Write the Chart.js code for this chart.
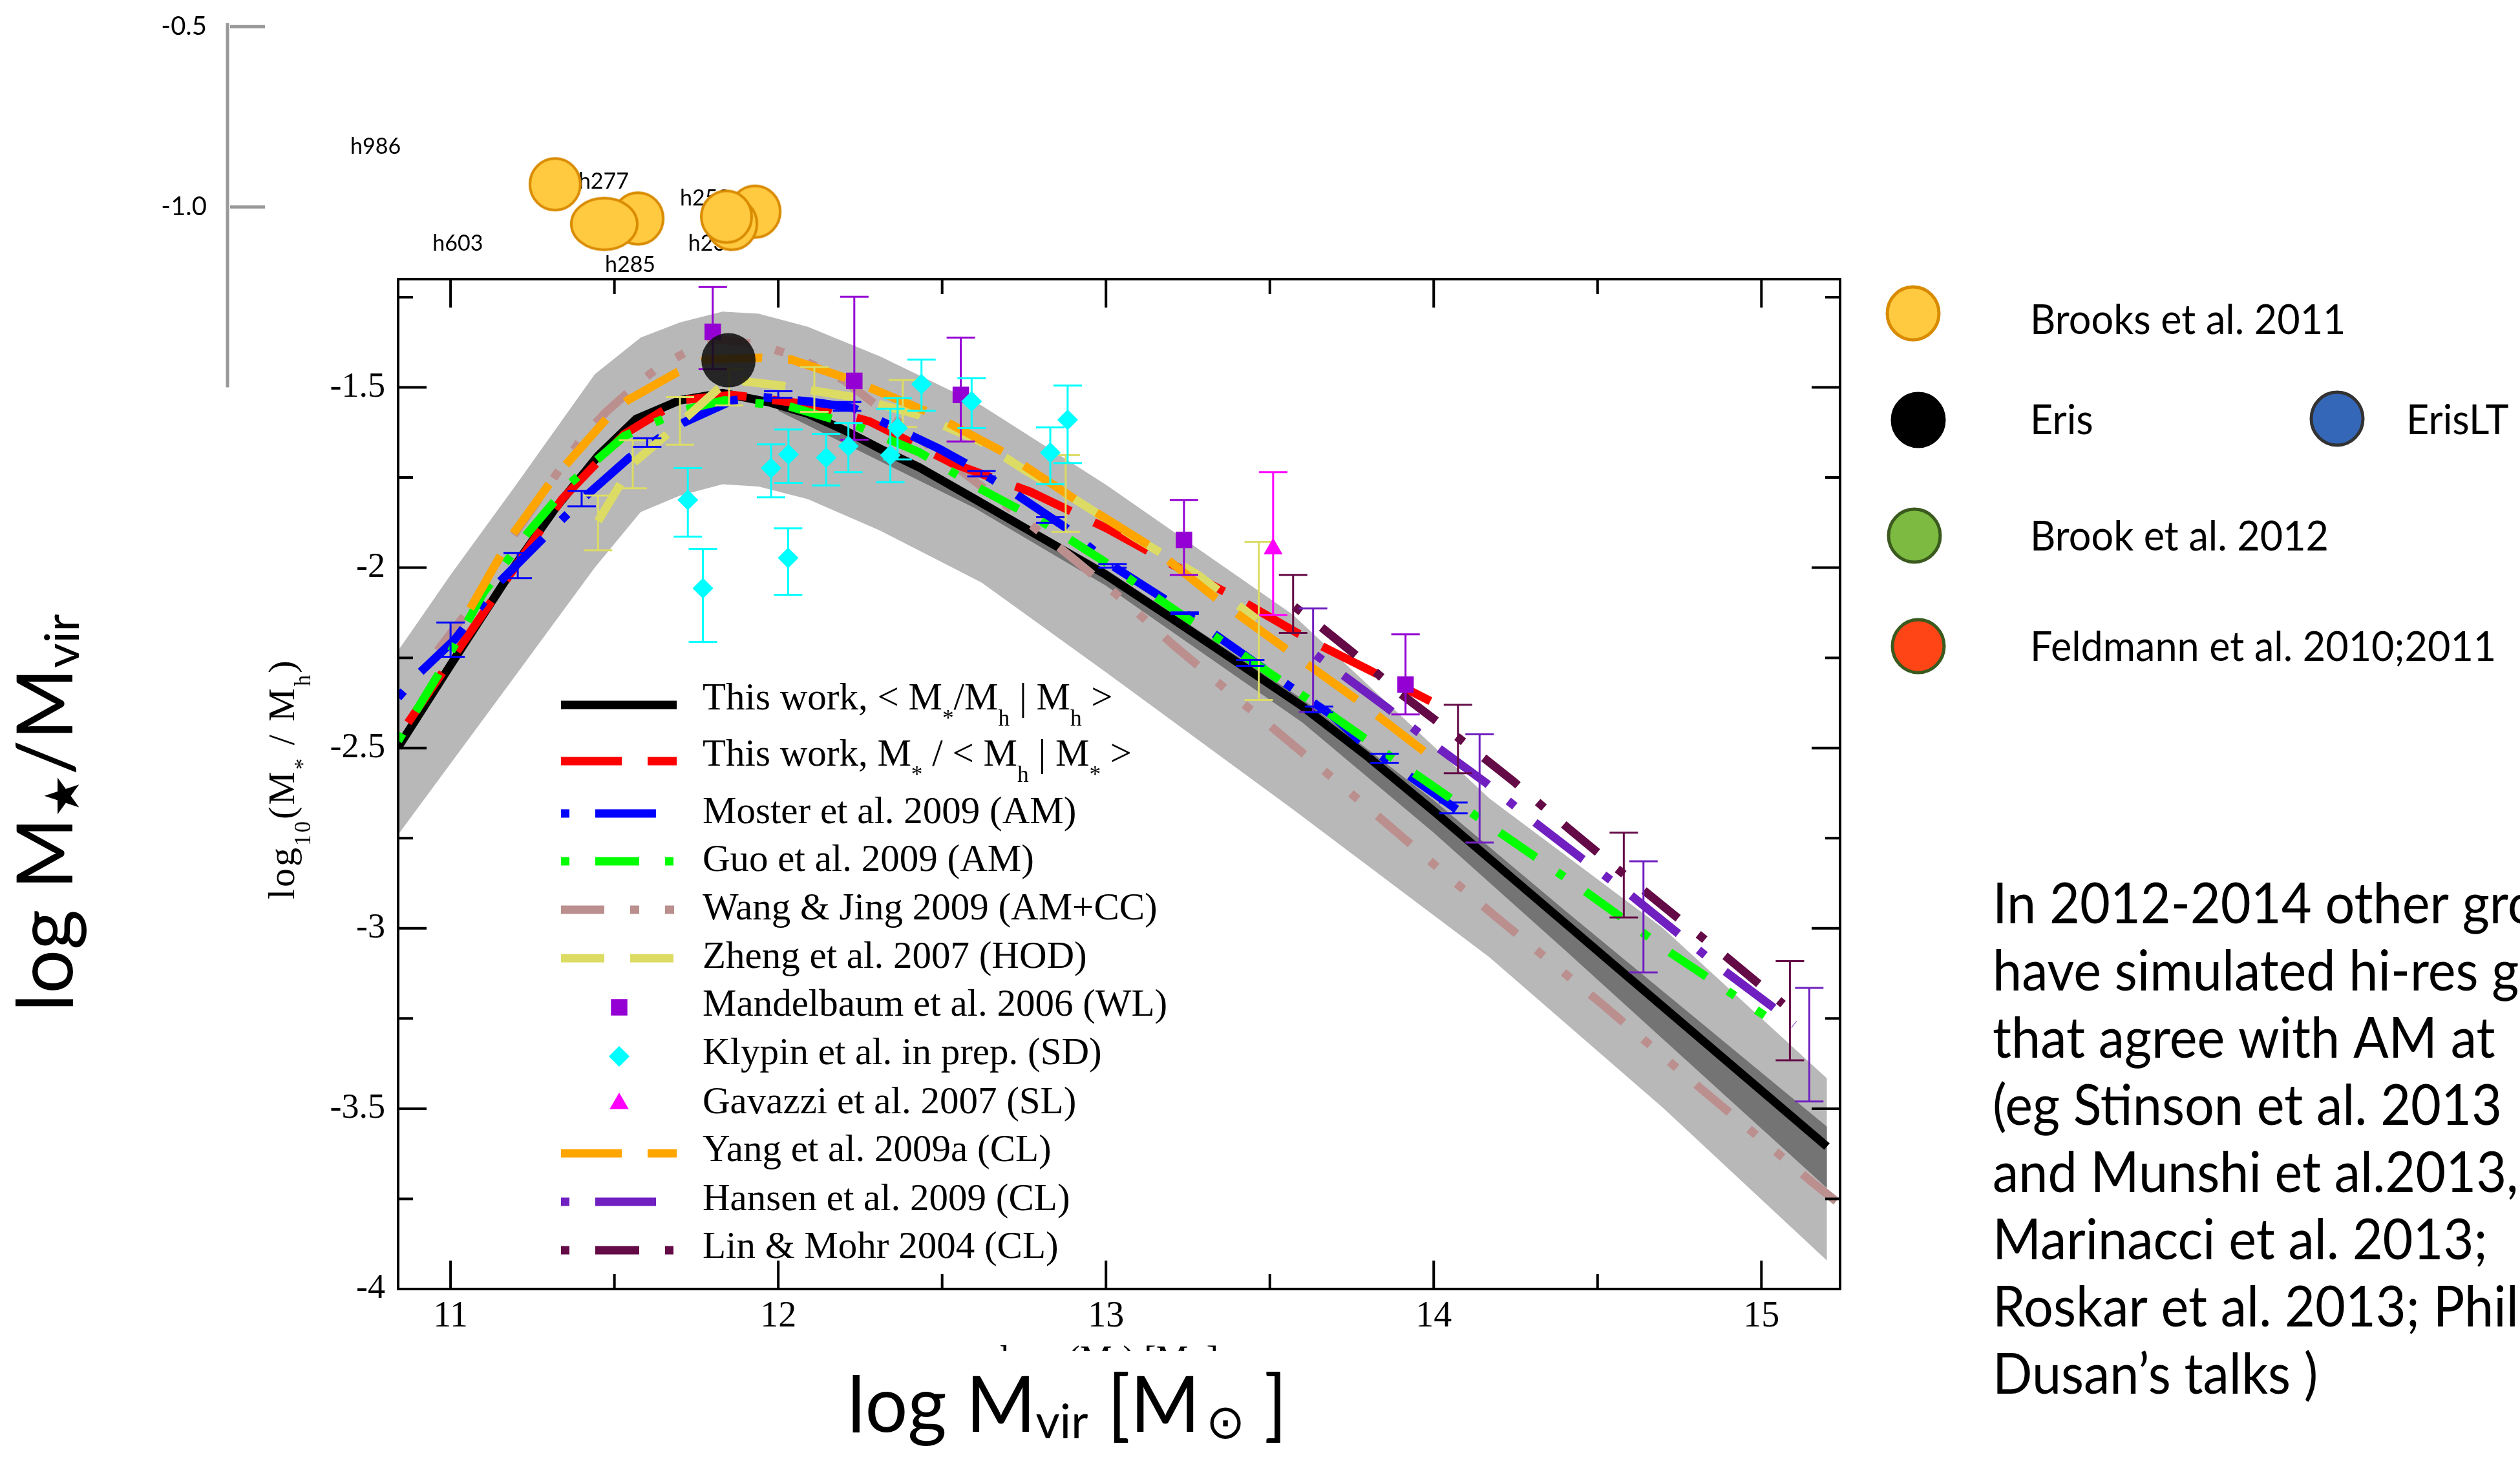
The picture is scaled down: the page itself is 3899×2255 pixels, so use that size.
<!DOCTYPE html>
<html>
<head>
<meta charset="utf-8">
<title>Stellar to halo mass ratio</title>
<script src="https://cdn.jsdelivr.net/npm/chart.js"></script>
<style>
  html, body { margin: 0; padding: 0; background: #fff; }
  canvas { display: block; }
</style>
</head>
<body>
<canvas id="chart" width="3899" height="2255"></canvas>
<script>
// axes
var xTicks = [11, 12, 13, 14, 15];
var xMinorTicks = [11.5, 12.5, 13.5, 14.5];
var yTicks = [-4, -3.5, -3, -2.5, -2, -1.5];
var yMinorTicks = [-3.75, -3.25, -2.75, -2.25, -1.75, -1.25];
var oldAxisTicks = [-0.5, -1.0];
var oldAxisRange = [-0.49, -1.5];

// scatter band of "this work"
var bandX  = [10.84, 11.0, 11.2, 11.44, 11.58, 11.7, 11.83, 11.94, 12.09, 12.31, 12.62, 13.0, 13.57, 14.17, 14.7, 15.2];
var bandHi = [-2.23, -2.02, -1.77, -1.464, -1.362, -1.32, -1.29, -1.296, -1.332, -1.414, -1.55, -1.77, -2.13, -2.64, -3.0, -3.416];
var bandLo = [-2.74, -2.543, -2.297, -2.0, -1.846, -1.80, -1.769, -1.775, -1.81, -1.897, -2.041, -2.29, -2.67, -3.08, -3.498, -3.921];
var darkX  = [12.0, 12.6, 13.0, 13.6, 14.0, 14.4, 14.8, 15.2];
var darkHi = [-1.54, -1.80, -2.005, -2.365, -2.645, -2.95, -3.25, -3.55];
var darkLo = [-1.565, -1.835, -2.05, -2.43, -2.735, -3.06, -3.39, -3.72];

// curves
var thisWorkX = [10.84, 11.0, 11.2, 11.32, 11.45, 11.566, 11.70, 11.83, 11.97, 12.09, 12.2, 12.31, 12.43, 12.6, 12.8, 13.0, 13.2, 13.4, 13.6, 13.8, 14.0, 14.2, 14.4, 14.6, 14.8, 15.0, 15.2];
var thisWorkY = [-2.498, -2.27, -1.99, -1.835, -1.69, -1.588, -1.536, -1.516, -1.541, -1.573, -1.618, -1.67, -1.722, -1.81, -1.915, -2.02, -2.14, -2.262, -2.385, -2.525, -2.675, -2.83, -2.985, -3.14, -3.295, -3.45, -3.605];
var thisWork2X = [10.87, 11.15, 11.34, 11.53, 11.70, 11.86, 12.09, 12.28, 12.53, 12.77, 13.0, 13.2, 13.4, 13.62, 13.86, 13.99];
var thisWork2Y = [-2.43, -2.06, -1.81, -1.63, -1.536, -1.521, -1.547, -1.595, -1.71, -1.79, -1.89, -1.99, -2.085, -2.20, -2.31, -2.37];
var mosterX = [10.84, 10.905, 11.012, 11.148, 11.284, 11.408, 11.545, 11.708, 11.861, 11.952, 12.10, 12.228, 12.49, 12.57, 12.715, 12.874, 13.02, 13.18, 13.34, 13.45, 13.69, 13.78, 13.93, 14.07];
var mosterY = [-2.36, -2.292, -2.20, -2.041, -1.917, -1.805, -1.695, -1.599, -1.536, -1.527, -1.54, -1.557, -1.67, -1.71, -1.79, -1.887, -1.995, -2.088, -2.19, -2.26, -2.41, -2.484, -2.58, -2.67];
var guoX = [10.84, 10.96, 11.10, 11.23, 11.36, 11.53, 11.71, 11.835, 12.03, 12.245, 12.43, 12.61, 12.80, 12.99, 13.23, 13.41, 13.69, 13.93, 14.20, 14.46, 14.72, 15.01];
var guoY = [-2.48, -2.30, -2.07, -1.91, -1.77, -1.635, -1.563, -1.536, -1.552, -1.609, -1.68, -1.778, -1.87, -1.98, -2.13, -2.237, -2.41, -2.563, -2.733, -2.896, -3.066, -3.242];
var wangX = [10.96, 11.07, 11.17, 11.30, 11.41, 11.475, 11.578, 11.635, 11.75, 11.82, 11.94, 12.05, 12.2, 12.39, 12.545, 12.727, 12.90, 13.066, 13.2, 13.37, 13.54, 13.71, 13.87, 14.01, 14.17, 14.345, 14.52, 14.68, 14.82, 14.98, 15.155, 15.24];
var wangY = [-2.23, -2.10, -1.94, -1.77, -1.63, -1.568, -1.485, -1.444, -1.387, -1.367, -1.382, -1.413, -1.48, -1.613, -1.722, -1.849, -1.975, -2.10, -2.21, -2.34, -2.468, -2.597, -2.72, -2.83, -2.953, -3.084, -3.215, -3.339, -3.448, -3.57, -3.704, -3.765];
var zhengX = [11.45, 11.556, 11.656, 11.816, 11.86, 12.01, 12.23, 12.43, 12.617, 12.755, 12.91, 13.09, 13.28, 13.46];
var zhengY = [-1.871, -1.711, -1.634, -1.505, -1.48, -1.495, -1.527, -1.577, -1.65, -1.731, -1.813, -1.917, -2.02, -2.143];
var yangX = [11.06, 11.19, 11.305, 11.475, 11.54, 11.69, 11.78, 11.95, 12.04, 12.21, 12.455, 12.69, 12.91, 13.14, 13.34, 13.55, 13.77, 13.97];
var yangY = [-2.113, -1.907, -1.763, -1.588, -1.536, -1.459, -1.423, -1.418, -1.423, -1.475, -1.568, -1.681, -1.813, -1.943, -2.088, -2.226, -2.369, -2.509];
var hansenX = [13.64, 13.71, 13.86, 14.01, 14.16, 14.30, 14.45, 14.60, 14.74, 14.88, 15.03, 15.10];
var hansenY = [-2.242, -2.289, -2.39, -2.497, -2.597, -2.70, -2.805, -2.907, -3.01, -3.113, -3.215, -3.267];
var linX = [13.575, 13.65, 13.755, 13.90, 14.08, 14.24, 14.41, 14.56, 14.735, 14.89, 15.066];
var linY = [-2.108, -2.16, -2.237, -2.35, -2.475, -2.59, -2.722, -2.835, -2.964, -3.077, -3.21];

// error bars on the curves
var mosterErrX  = [11.0, 11.205, 11.40, 11.6, 12.0, 12.21, 12.62, 12.83, 13.02, 13.24, 13.44, 13.65, 13.85, 14.06];
var mosterErrHi = [-2.152, -1.959, -1.787, -1.641, -1.511, -1.541, -1.732, -1.86, -1.99, -2.124, -2.256, -2.385, -2.516, -2.651];
var mosterErrLo = [-2.247, -2.029, -1.830, -1.665, -1.529, -1.565, -1.747, -1.876, -2.0, -2.129, -2.272, -2.401, -2.541, -2.681];
var zhengErrX  = [11.45, 11.556, 11.70, 11.85, 12.11, 12.38, 12.877, 13.466];
var zhengErrHi = [-1.80, -1.647, -1.527, -1.45, -1.444, -1.48, -1.688, -1.928];
var zhengErrLo = [-1.952, -1.78, -1.659, -1.55, -1.568, -1.61, -1.901, -2.367];
var linErrX  = [13.571, 14.074, 14.58, 15.087];
var linErrHi = [-2.02, -2.38, -2.735, -3.091];
var linErrLo = [-2.181, -2.57, -2.97, -3.366];
var hansenErrX  = [13.632, 14.14, 14.64, 15.146];
var hansenErrHi = [-2.113, -2.462, -2.814, -3.165];
var hansenErrLo = [-2.40, -2.762, -3.122, -3.48];

// data points
var mandelX  = [11.80, 12.232, 12.557, 13.238, 13.914];
var mandelY  = [-1.346, -1.482, -1.521, -1.923, -2.324];
var mandelHi = [-1.222, -1.249, -1.362, -1.812, -2.185];
var mandelLo = [-1.45, -1.645, -1.65, -2.02, -2.407];
var klypinX  = [11.724, 11.77, 11.978, 12.031, 12.03, 12.146, 12.214, 12.342, 12.364, 12.437, 12.59, 12.83, 12.883];
var klypinY  = [-1.812, -2.057, -1.724, -1.686, -1.973, -1.695, -1.663, -1.688, -1.613, -1.491, -1.539, -1.681, -1.59];
var klypinHi = [-1.724, -1.948, -1.658, -1.617, -1.891, -1.629, -1.599, -1.559, -1.53, -1.423, -1.475, -1.611, -1.495];
var klypinLo = [-1.914, -2.206, -1.805, -1.765, -2.075, -1.772, -1.735, -1.763, -1.70, -1.565, -1.613, -1.769, -1.71];
var gavazziX  = [13.51];
var gavazziY  = [-1.948];
var gavazziHi = [-1.735];
var gavazziLo = [-2.131];
var erisX = [11.848];
var erisY = [-1.425];
var brooksX = [11.319, 11.572, 11.469, 11.929, 11.858, 11.842];
var brooksY = [-0.937, -1.032, -1.047, -1.013, -1.047, -1.027];
var haloNames = ['h986', 'h277', 'h603', 'h285', 'h258', 'h239'];
var haloX = [10.694, 11.390, 10.945, 11.471, 11.700, 11.725];
var haloY = [-0.853, -0.950, -1.122, -1.181, -0.996, -1.122];

var paragraph = [
  'In 2012-2014 other groups',
  'have simulated hi-res galaxies',
  'that agree with AM at',
  '(eg Stinson et al. 2013',
  'and Munshi et al.2013,',
  'Marinacci et al. 2013;',
  'Roskar et al. 2013; Phil',
  'Dusan\u2019s talks )'
];

function pts(xs, ys) {
  return xs.map(function (x, i) { return {x: x, y: ys[i]}; });
}

function curve(xs, ys, color, dash, order, row, text) {
  return {
    data: pts(xs, ys), borderColor: color, backgroundColor: color,
    borderWidth: 13, borderDash: dash, borderCapStyle: 'butt',
    pointRadius: 0, fill: false, order: order,
    legendRow: row, legendText: text
  };
}

function ellipseImage(w, h, fill, stroke) {
  var c = document.createElement('canvas');
  c.width = w + 8; c.height = h + 8;
  var g = c.getContext('2d');
  g.beginPath();
  g.ellipse(c.width / 2, c.height / 2, w / 2, h / 2, 0, 0, Math.PI * 2);
  g.fillStyle = fill; g.fill();
  g.lineWidth = 4; g.strokeStyle = stroke; g.stroke();
  return c;
}
var brooksDot = ellipseImage(78, 80, '#FFC940', '#D98B00');
var brooksWide = ellipseImage(102, 80, '#FFC940', '#D98B00');

// text with subscripts, parts starting with "_" are lowered
function drawRich(ctx, parts, x, y, size, family, subScale, subDrop) {
  parts.forEach(function (p) {
    var sub = p.charAt(0) === '_';
    var t = sub ? p.slice(1) : p;
    var s = sub ? size * subScale : size;
    ctx.font = s + 'px ' + family;
    ctx.fillText(t, x, y + (sub ? size * subDrop : 0));
    x += ctx.measureText(t).width;
  });
  return x;
}

// same, squeezed sideways to come close to the slide font
function drawNarrow(ctx, parts, x, y, size, family, squeeze, subScale, subDrop) {
  ctx.save();
  ctx.translate(x, y);
  ctx.scale(squeeze, 1);
  drawRich(ctx, parts, 0, 0, size, family, subScale, subDrop);
  ctx.restore();
}

var errorBars = {
  id: 'errorBars',
  beforeDatasetDraw: function (chart, args) {
    var ds = chart.data.datasets[args.index];
    if (!ds.errX) return;
    var ctx = chart.ctx, xs = chart.scales.x, ys = chart.scales.y;
    ctx.save();
    ctx.strokeStyle = ds.errColor;
    ctx.lineWidth = 3;
    ds.errX.forEach(function (v, i) {
      var px = xs.getPixelForValue(v);
      var p1 = ys.getPixelForValue(ds.errHi[i]);
      var p2 = ys.getPixelForValue(ds.errLo[i]);
      ctx.beginPath();
      ctx.moveTo(px, p1); ctx.lineTo(px, p2);
      ctx.moveTo(px - 22, p1); ctx.lineTo(px + 22, p1);
      ctx.moveTo(px - 22, p2); ctx.lineTo(px + 22, p2);
      ctx.stroke();
    });
    ctx.restore();
  }
};

var legendRowY  = [1091, 1178, 1259, 1333, 1408, 1483, 1559, 1635, 1708, 1785, 1860, 1935];
var legendTextY = [1098, 1185, 1274, 1348, 1423, 1498, 1572, 1647, 1723, 1797, 1873, 1947];

var slideDecor = {
  id: 'slideDecor',
  beforeDatasetsDraw: function (chart) {
    var ctx = chart.ctx, xs = chart.scales.x, ys = chart.scales.y;
    ctx.save();
    // axis left over from the Brooks et al. panel
    ctx.strokeStyle = '#999';
    ctx.lineWidth = 5;
    ctx.beginPath();
    ctx.moveTo(352, ys.getPixelForValue(oldAxisRange[0]));
    ctx.lineTo(352, ys.getPixelForValue(oldAxisRange[1]));
    ctx.stroke();
    ctx.fillStyle = '#000';
    ctx.font = '40px Lato';
    ctx.textAlign = 'right';
    ctx.textBaseline = 'middle';
    oldAxisTicks.forEach(function (v) {
      var py = ys.getPixelForValue(v);
      ctx.beginPath(); ctx.moveTo(356, py); ctx.lineTo(410, py); ctx.stroke();
      ctx.fillText(v.toFixed(1), 320, py);
    });
    ctx.textAlign = 'left';
    ctx.textBaseline = 'alphabetic';
    ctx.font = '34px Lato';
    haloNames.forEach(function (n, i) {
      ctx.fillText(n, xs.getPixelForValue(haloX[i]), ys.getPixelForValue(haloY[i]));
    });
    ctx.restore();
  },
  afterDatasetsDraw: function (chart) {
    var ctx = chart.ctx, a = chart.chartArea, xs = chart.scales.x, ys = chart.scales.y;
    ctx.save();
    // frame and inward ticks
    ctx.strokeStyle = '#000';
    ctx.lineWidth = 4;
    ctx.strokeRect(a.left, a.top, a.right - a.left, a.bottom - a.top);
    ctx.beginPath();
    xTicks.concat(xMinorTicks).forEach(function (v, i) {
      var px = xs.getPixelForValue(v), len = i < xTicks.length ? 44 : 23;
      ctx.moveTo(px, a.bottom); ctx.lineTo(px, a.bottom - len);
      ctx.moveTo(px, a.top); ctx.lineTo(px, a.top + len);
    });
    yTicks.concat(yMinorTicks).forEach(function (v, i) {
      var py = ys.getPixelForValue(v), len = i < yTicks.length ? 44 : 23;
      ctx.moveTo(a.left, py); ctx.lineTo(a.left + len, py);
      ctx.moveTo(a.right, py); ctx.lineTo(a.right - len, py);
    });
    ctx.stroke();

    // legend inside the plot
    ctx.textBaseline = 'alphabetic';
    ctx.textAlign = 'left';
    chart.data.datasets.forEach(function (ds) {
      if (ds.legendRow === undefined) return;
      var ry = legendRowY[ds.legendRow];
      if (ds.showLine === false) {
        ctx.fillStyle = ds.pointBackgroundColor;
        Chart.helpers.drawPoint(ctx, {pointStyle: ds.pointStyle, radius: ds.pointRadius, rotation: 0, borderWidth: 0}, 958, ry);
      } else {
        ctx.strokeStyle = ds.borderColor;
        ctx.lineWidth = ds.borderWidth;
        ctx.lineCap = 'butt';
        ctx.setLineDash(ds.borderDash || []);
        ctx.beginPath(); ctx.moveTo(868, ry); ctx.lineTo(1047, ry); ctx.stroke();
        ctx.setLineDash([]);
      }
      ctx.fillStyle = '#000';
      drawRich(ctx, ds.legendText, 1087, legendTextY[ds.legendRow], 59, '"Liberation Serif"', 0.6, 0.43);
    });

    // original y title, rotated
    ctx.fillStyle = '#000';
    ctx.save();
    ctx.translate(455, 1392);
    ctx.rotate(-Math.PI / 2);
    ctx.letterSpacing = '3px';
    drawRich(ctx, ['log', '_10', '(M', '_*', ' / M', '_h', ')'], 0, 0, 58, '"Liberation Serif"', 0.6, 0.43);
    ctx.restore();

    // original x title, mostly covered by the slide label
    ctx.save();
    ctx.beginPath();
    ctx.rect(1400, 2070, 700, 21);
    ctx.clip();
    drawRich(ctx, ['log', '_10', '(M', '_h', ') [M', '_\u2299', ']'], 1547, 2122, 56, '"Liberation Serif"', 0.6, 0.43);
    ctx.restore();

    // slide axis labels
    drawNarrow(ctx, ['log M', '_vir', ' [M', '_\u2009\u2299', ' ]'], 1311, 2216, 120, 'Lato', 0.97, 0.62, 0.08);
    ctx.save();
    ctx.translate(112, 1566);
    ctx.rotate(-Math.PI / 2);
    drawRich(ctx, ['log M', '_\u2605', '/M', '_vir'], 0, 0, 120, 'Lato', 0.62, 0.08);
    ctx.restore();

    // slide legend on the right
    var marks = [
      {x: 2960, y: 485, fill: '#FFC940', stroke: '#D98B00', text: 'Brooks et al. 2011', tx: 3141, ty: 517},
      {x: 2968, y: 650, fill: '#000000', stroke: '#000000', text: 'Eris', tx: 3141, ty: 672},
      {x: 3616, y: 648, fill: '#3567B8', stroke: '#333333', text: 'ErisLT', tx: 3723, ty: 672},
      {x: 2962, y: 829, fill: '#7CBA41', stroke: '#3A5A1E', text: 'Brook et al. 2012', tx: 3141, ty: 852},
      {x: 2968, y: 1000, fill: '#FF4515', stroke: '#3A5A1E', text: 'Feldmann et al. 2010;2011', tx: 3141, ty: 1023}
    ];
    marks.forEach(function (m) {
      ctx.beginPath();
      ctx.ellipse(m.x, m.y, 40, 41, 0, 0, Math.PI * 2);
      ctx.fillStyle = m.fill; ctx.fill();
      ctx.lineWidth = 5; ctx.strokeStyle = m.stroke; ctx.stroke();
      ctx.fillStyle = '#000';
      drawNarrow(ctx, [m.text], m.tx, m.ty, 63, 'Lato', 0.97, 1, 0);
    });

    paragraph.forEach(function (line, i) {
      drawNarrow(ctx, [line], 3083, 1429 + 104 * i, 88, 'Lato', 0.92, 1, 0);
    });
    ctx.restore();
  }
};

var datasets = [
  {data: pts(bandX, bandHi), borderWidth: 0, borderColor: 'rgba(0,0,0,0)', pointRadius: 0, fill: 1, backgroundColor: '#b8b8b8', order: 100},
  {data: pts(bandX, bandLo), borderWidth: 0, borderColor: 'rgba(0,0,0,0)', pointRadius: 0, fill: false, order: 99},
  {data: pts(darkX, darkHi), borderWidth: 0, borderColor: 'rgba(0,0,0,0)', pointRadius: 0, fill: 3, backgroundColor: '#747474', order: 98},
  {data: pts(darkX, darkLo), borderWidth: 0, borderColor: 'rgba(0,0,0,0)', pointRadius: 0, fill: false, order: 97},
  curve(thisWorkX, thisWorkY, '#000000', [], 60, 0, ['This work, < M', '_*', '/M', '_h', ' | M', '_h', ' >']),
  curve(wangX, wangY, '#BC8F8F', [67, 40, 14, 40, 14, 40], 59, 4, ['Wang & Jing 2009 (AM+CC)']),
  curve(thisWork2X, thisWork2Y, '#FF0000', [94, 40], 58, 1, ['This work, M', '_*', ' / < M', '_h', ' | M', '_*', ' >']),
  curve(mosterX, mosterY, '#0000FF', [13, 40, 94, 40], 57, 2, ['Moster et al. 2009 (AM)']),
  curve(guoX, guoY, '#00FF00', [13, 40, 68, 40], 56, 3, ['Guo et al. 2009 (AM)']),
  curve(zhengX, zhengY, '#DCDC64', [67, 40], 55, 5, ['Zheng et al. 2007 (HOD)']),
  curve(yangX, yangY, '#FFA500', [94, 40], 54, 9, ['Yang et al. 2009a (CL)']),
  curve(hansenX, hansenY, '#7020C0', [13, 40, 94, 40], 53, 10, ['Hansen et al. 2009 (CL)']),
  curve(linX, linY, '#640A46', [13, 40, 68, 40], 52, 11, ['Lin & Mohr 2004 (CL)']),
  {data: pts(mandelX, mandelY), showLine: false, pointStyle: 'rect', pointRadius: 18, pointBackgroundColor: '#9400D3', pointBorderWidth: 0, order: 20,
   errX: mandelX, errHi: mandelHi, errLo: mandelLo, errColor: '#9400D3', legendRow: 6, legendText: ['Mandelbaum et al. 2006 (WL)']},
  {data: pts(klypinX, klypinY), showLine: false, pointStyle: 'rectRot', pointRadius: 16, pointBackgroundColor: '#00FFFF', pointBorderWidth: 0, order: 19,
   errX: klypinX, errHi: klypinHi, errLo: klypinLo, errColor: '#00FFFF', legendRow: 7, legendText: ['Klypin et al. in prep. (SD)']},
  {data: pts(gavazziX, gavazziY), showLine: false, pointStyle: 'triangle', pointRadius: 17, pointBackgroundColor: '#FF00FF', pointBorderWidth: 0, order: 18,
   errX: gavazziX, errHi: gavazziHi, errLo: gavazziLo, errColor: '#FF00FF', legendRow: 8, legendText: ['Gavazzi et al. 2007 (SL)']},
  {data: [], showLine: false, pointRadius: 0, order: 30, errX: mosterErrX, errHi: mosterErrHi, errLo: mosterErrLo, errColor: '#0000FF'},
  {data: [], showLine: false, pointRadius: 0, order: 31, errX: zhengErrX, errHi: zhengErrHi, errLo: zhengErrLo, errColor: '#DCDC64'},
  {data: [], showLine: false, pointRadius: 0, order: 32, errX: linErrX, errHi: linErrHi, errLo: linErrLo, errColor: '#640A46'},
  {data: [], showLine: false, pointRadius: 0, order: 33, errX: hansenErrX, errHi: hansenErrHi, errLo: hansenErrLo, errColor: '#7020C0'},
  {data: pts(erisX, erisY), showLine: false, pointRadius: 42, pointBackgroundColor: 'rgba(15,15,15,0.87)', pointBorderWidth: 0, order: 10},
  {data: pts(brooksX, brooksY), showLine: false, clip: false, pointRadius: 200, pointBorderWidth: 0,
   pointStyle: [brooksDot, brooksDot, brooksWide, brooksDot, brooksDot, brooksDot], order: 5}
];

new Chart(document.getElementById('chart'), {
  type: 'line',
  data: {datasets: datasets},
  options: {
    responsive: false,
    animation: false,
    devicePixelRatio: 1,
    events: [],
    layout: {padding: {left: 496, top: 432, right: 1052, bottom: 180}},
    plugins: {legend: {display: false}, tooltip: {enabled: false}},
    elements: {line: {tension: 0}},
    scales: {
      x: {
        type: 'linear', min: 10.84, max: 15.24,
        grid: {display: false, drawTicks: false},
        border: {display: false},
        afterBuildTicks: function (s) { s.ticks = xTicks.map(function (v) { return {value: v}; }); },
        afterFit: function (s) { s.height = 80; },
        ticks: {autoSkip: false, maxRotation: 0, padding: 10, color: '#000',
          font: {family: 'Liberation Serif', size: 56},
          callback: function (v) { return String(v); }}
      },
      y: {
        type: 'linear', min: -4, max: -1.2,
        grid: {display: false, drawTicks: false},
        border: {display: false},
        afterBuildTicks: function (s) { s.ticks = yTicks.map(function (v) { return {value: v}; }); },
        afterFit: function (s) { s.width = 120; },
        ticks: {autoSkip: false, padding: 20, color: '#000',
          font: {family: 'Liberation Serif', size: 54},
          callback: function (v) { return String(v); }}
      }
    }
  },
  plugins: [errorBars, slideDecor]
});
</script>
</body>
</html>
